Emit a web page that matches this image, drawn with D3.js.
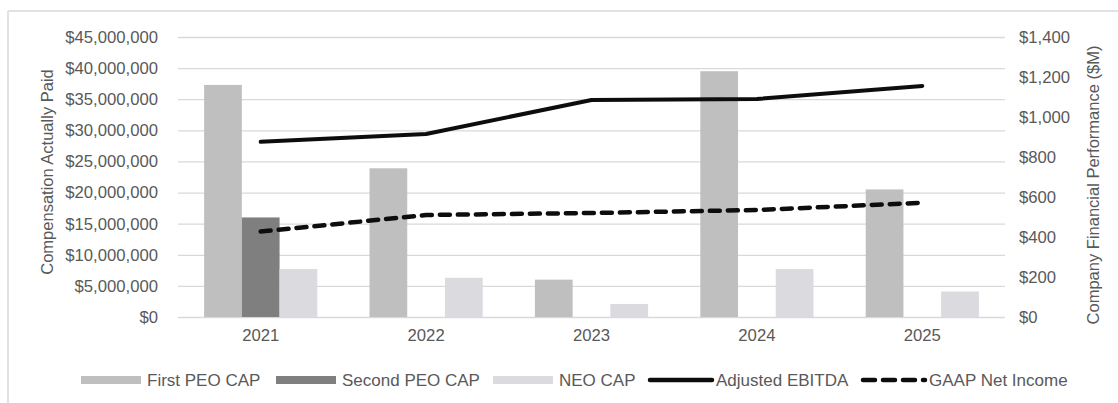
<!DOCTYPE html>
<html>
<head>
<meta charset="utf-8">
<script src="https://cdn.jsdelivr.net/npm/d3@7"></script>
<style>
  html, body { margin: 0; padding: 0; background: #fff; }
  svg { display: block; font-family: "Liberation Sans", Arial, sans-serif; }
</style>
</head>
<body>
<script>
// chart data
const years = ['2021', '2022', '2023', '2024', '2025'];
const firstPeoCap = [37300000, 23900000, 6000000, 39500000, 20500000];
const secondPeoCap = [16000000, 0, 0, 0, 0];
const neoCap = [7700000, 6300000, 2100000, 7700000, 4100000];
const adjEbitda = [876, 915, 1085, 1090, 1155];
const gaapNetIncome = [427, 510, 520, 535, 571];
const leftTicks = [0, 5e6, 10e6, 15e6, 20e6, 25e6, 30e6, 35e6, 40e6, 45e6];
const rightTicks = [0, 200, 400, 600, 800, 1000, 1200, 1400];

const W = 1118, H = 403;
const margin = {left: 178, right: 113, top: 37, bottom: 86};
const textColor = '#595959';
const fontSize = '16.7px';

let svg = d3.select('body').append('svg')
    .attr('width', W)
    .attr('height', H);

// outer frame (top and left only are visible)
svg.append('line').attr('x1', 8).attr('x2', W).attr('y1', 11).attr('y2', 11)
    .attr('stroke', '#e2e2e6').attr('stroke-width', 2);
svg.append('line').attr('x1', 8).attr('x2', 8).attr('y1', 11).attr('y2', H)
    .attr('stroke', '#e2e2e6').attr('stroke-width', 2);

let x = d3.scaleBand()
    .domain(years)
    .range([margin.left, W - margin.right])
    .paddingInner(0)
    .paddingOuter(0);

let series = ['first', 'second', 'neo'];
let xInner = d3.scaleBand()
    .domain(series)
    .range([0, x.bandwidth()])
    .paddingOuter(0.6923)
    .paddingInner(0);

let yL = d3.scaleLinear().domain([0, 45e6]).range([H - margin.bottom, margin.top]);
let yR = d3.scaleLinear().domain([0, 1400]).range([H - margin.bottom, margin.top]);

// gridlines + left axis
let fmtL = d => '$' + d3.format(',')(d);
let leftAxis = d3.axisLeft(yL)
    .tickValues(leftTicks)
    .tickFormat(fmtL)
    .tickSize(-(W - margin.left - margin.right))
    .tickPadding(20);
let gL = svg.append('g')
    .attr('transform', 'translate(' + margin.left + ',0)')
    .call(leftAxis);
gL.select('.domain').remove();
gL.selectAll('line').attr('stroke', '#d9d9d9').attr('stroke-width', 1.3);
gL.selectAll('text').attr('fill', textColor).style('font-size', fontSize);

let rightAxis = d3.axisRight(yR)
    .tickValues(rightTicks)
    .tickFormat(d => '$' + d3.format(',')(d))
    .tickSize(0)
    .tickPadding(14);
let gR = svg.append('g')
    .attr('transform', 'translate(' + (W - margin.right) + ',0)')
    .call(rightAxis);
gR.select('.domain').remove();
gR.selectAll('text').attr('fill', textColor).style('font-size', fontSize);

// x axis labels
let xAxis = d3.axisBottom(x).tickSize(0).tickPadding(12);
let gX = svg.append('g')
    .attr('transform', 'translate(0,' + (H - margin.bottom) + ')')
    .call(xAxis);
gX.select('.domain').remove();
gX.selectAll('text').attr('fill', textColor).style('font-size', fontSize);

// bars
let colors = {first: '#bfbfbf', second: '#7f7f7f', neo: '#dadadf'};
let values = {first: firstPeoCap, second: secondPeoCap, neo: neoCap};
series.forEach(s => {
    svg.append('g').selectAll('rect')
        .data(years.map((yr, i) => ({yr: yr, v: values[s][i]})))
        .join('rect')
        .attr('x', d => x(d.yr) + xInner(s))
        .attr('width', xInner.bandwidth())
        .attr('y', d => yL(d.v))
        .attr('height', d => yL(0) - yL(d.v))
        .attr('fill', colors[s]);
});

// lines
let lineGen = d3.line()
    .x((d, i) => x(years[i]) + x.bandwidth() / 2)
    .y(d => yR(d));

svg.append('path')
    .datum(adjEbitda)
    .attr('d', lineGen)
    .attr('fill', 'none')
    .attr('stroke', '#0d0d0d')
    .attr('stroke-width', 4)
    .attr('stroke-linecap', 'round')
    .attr('stroke-linejoin', 'round');

svg.append('path')
    .datum(gaapNetIncome)
    .attr('d', lineGen)
    .attr('fill', 'none')
    .attr('stroke', '#0d0d0d')
    .attr('stroke-width', 4.5)
    .attr('stroke-dasharray', '10,8')
    .attr('stroke-linecap', 'round');

// axis titles
svg.append('text')
    .attr('transform', 'translate(53,' + 172 + ') rotate(-90)')
    .attr('text-anchor', 'middle')
    .attr('fill', textColor)
    .style('font-size', '16.5px')
    .text('Compensation Actually Paid');

svg.append('text')
    .attr('transform', 'translate(1099,' + 185 + ') rotate(-90)')
    .attr('text-anchor', 'middle')
    .attr('fill', textColor)
    .style('font-size', '16.5px')
    .text('Company Financial Performance ($M)');

// legend
let legendY = 380;
let legendItems = [
    {label: 'First PEO CAP', type: 'bar', color: colors.first, x: 81},
    {label: 'Second PEO CAP', type: 'bar', color: colors.second, x: 276},
    {label: 'NEO CAP', type: 'bar', color: colors.neo, x: 493},
    {label: 'Adjusted EBITDA', type: 'line', x: 650},
    {label: 'GAAP Net Income', type: 'dash', x: 863}
];
let lg = svg.append('g');
legendItems.forEach(it => {
    if (it.type === 'bar') {
        lg.append('rect')
            .attr('x', it.x).attr('y', legendY - 4)
            .attr('width', 60).attr('height', 8)
            .attr('fill', it.color);
    } else {
        lg.append('line')
            .attr('x1', it.x).attr('x2', it.x + 62)
            .attr('y1', legendY).attr('y2', legendY)
            .attr('stroke', '#0d0d0d')
            .attr('stroke-width', 4.5)
            .attr('stroke-linecap', 'round')
            .attr('stroke-dasharray', it.type === 'dash' ? '12,8' : null);
    }
    lg.append('text')
        .attr('x', it.x + 66)
        .attr('y', legendY)
        .attr('dy', '0.35em')
        .attr('fill', textColor)
        .style('font-size', '17px')
        .text(it.label);
});
</script>
</body>
</html>
